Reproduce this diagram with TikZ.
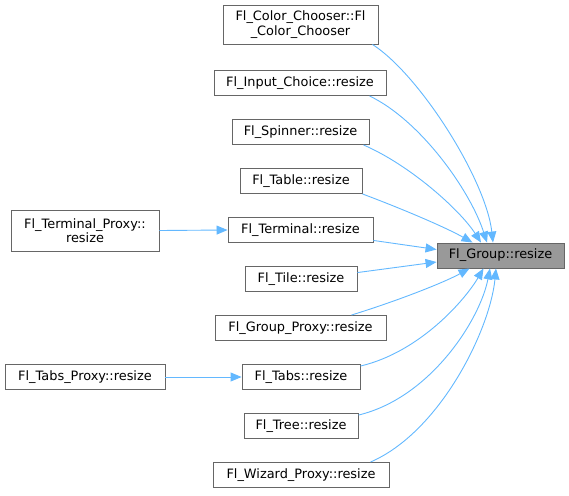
\documentclass[tikz,border=0pt]{standalone}
\usepackage{fontspec}
\setmainfont{DejaVu Sans}
\usetikzlibrary{arrows.meta}
\definecolor{edgeblue}{HTML}{63B8FF}
\definecolor{boxgray}{HTML}{666666}
\definecolor{hlfill}{HTML}{999999}
\tikzset{
  fn/.style={draw=boxgray, line width=0.9pt, fill=white, inner xsep=2pt, inner ysep=0pt,
    minimum height=25pt, align=center, font=\fontsize{12.9}{14.5}\selectfont},
  hl/.style={fn, fill=hlfill},
  call/.style={draw=edgeblue, line width=0.9pt, -{Triangle[length=11pt,width=9pt]}},
}
\begin{document}
\begin{tikzpicture}[x=1pt,y=-1pt]
\useasboundingbox (0,0) rectangle (569,495);
\node[hl, minimum width=127pt] (g) at (500.5,255.5) {Fl\_Group::resize};
\node[fn, minimum width=155pt, minimum height=39pt] (cc) at (300.5,24.5) {Fl\_Color\_Chooser::Fl\\\_Color\_Chooser};
\node[fn, minimum width=172pt] (ic) at (300,83) {Fl\_Input\_Choice::resize};
\node[fn, minimum width=137pt] (sp) at (300.5,132) {Fl\_Spinner::resize};
\node[fn, minimum width=122pt] (tb) at (301,181) {Fl\_Table::resize};
\node[fn, minimum width=145pt] (te) at (300.5,230) {Fl\_Terminal::resize};
\node[fn, minimum width=112pt] (ti) at (301,279) {Fl\_Tile::resize};
\node[fn, minimum width=171pt] (gp) at (300.5,328) {Fl\_Group\_Proxy::resize};
\node[fn, minimum width=118pt] (ts) at (301,377) {Fl\_Tabs::resize};
\node[fn, minimum width=114pt] (tr) at (301,426) {Fl\_Tree::resize};
\node[fn, minimum width=176pt] (wz) at (301,475) {Fl\_Wizard\_Proxy::resize};
\node[fn, minimum width=148pt, minimum height=41pt] (tp) at (85,230.5) {Fl\_Terminal\_Proxy::\\resize};
\node[fn, minimum width=160pt] (bp) at (85,377) {Fl\_Tabs\_Proxy::resize};

\draw[call] ([xshift=-6pt]cc.south east) .. controls (420,75) and (486,180) .. ([xshift=-7.5pt]g.north);
\draw[call] ([xshift=-17pt]ic.south east) .. controls (420,120) and (470,190) .. ([xshift=-13.5pt]g.north);
\draw[call] ([xshift=-6pt]sp.south east) .. controls (410,165) and (460,210) .. ([xshift=-19.5pt]g.north);
\draw[call] (tb.south east) .. controls (400,208) and (445,227) .. ([xshift=-28pt]g.north);
\draw[call] ([yshift=2.5pt]te.south east) -- ([yshift=6pt]g.west);
\draw[call] ([yshift=-6.5pt]ti.north east) -- ([yshift=-6.5pt]g.west);
\draw[call] ([xshift=-35pt]gp.north east) .. controls (400,300) and (445,282) .. ([xshift=-31pt]g.south);
\draw[call] ([yshift=-2pt]ts.north east) .. controls (420,352) and (465,300) .. ([xshift=-17pt]g.south);
\draw[call] ([yshift=-2pt]tr.north east) .. controls (430,398) and (480,320) .. ([xshift=-10.5pt]g.south);
\draw[call] ([xshift=-19pt]wz.north east) .. controls (440,432) and (490,330) .. ([xshift=-4.5pt]g.south);
\draw[call] (tp.east) -- (te.west);
\draw[call] (bp.east) -- (ts.west);
\end{tikzpicture}
\end{document}
